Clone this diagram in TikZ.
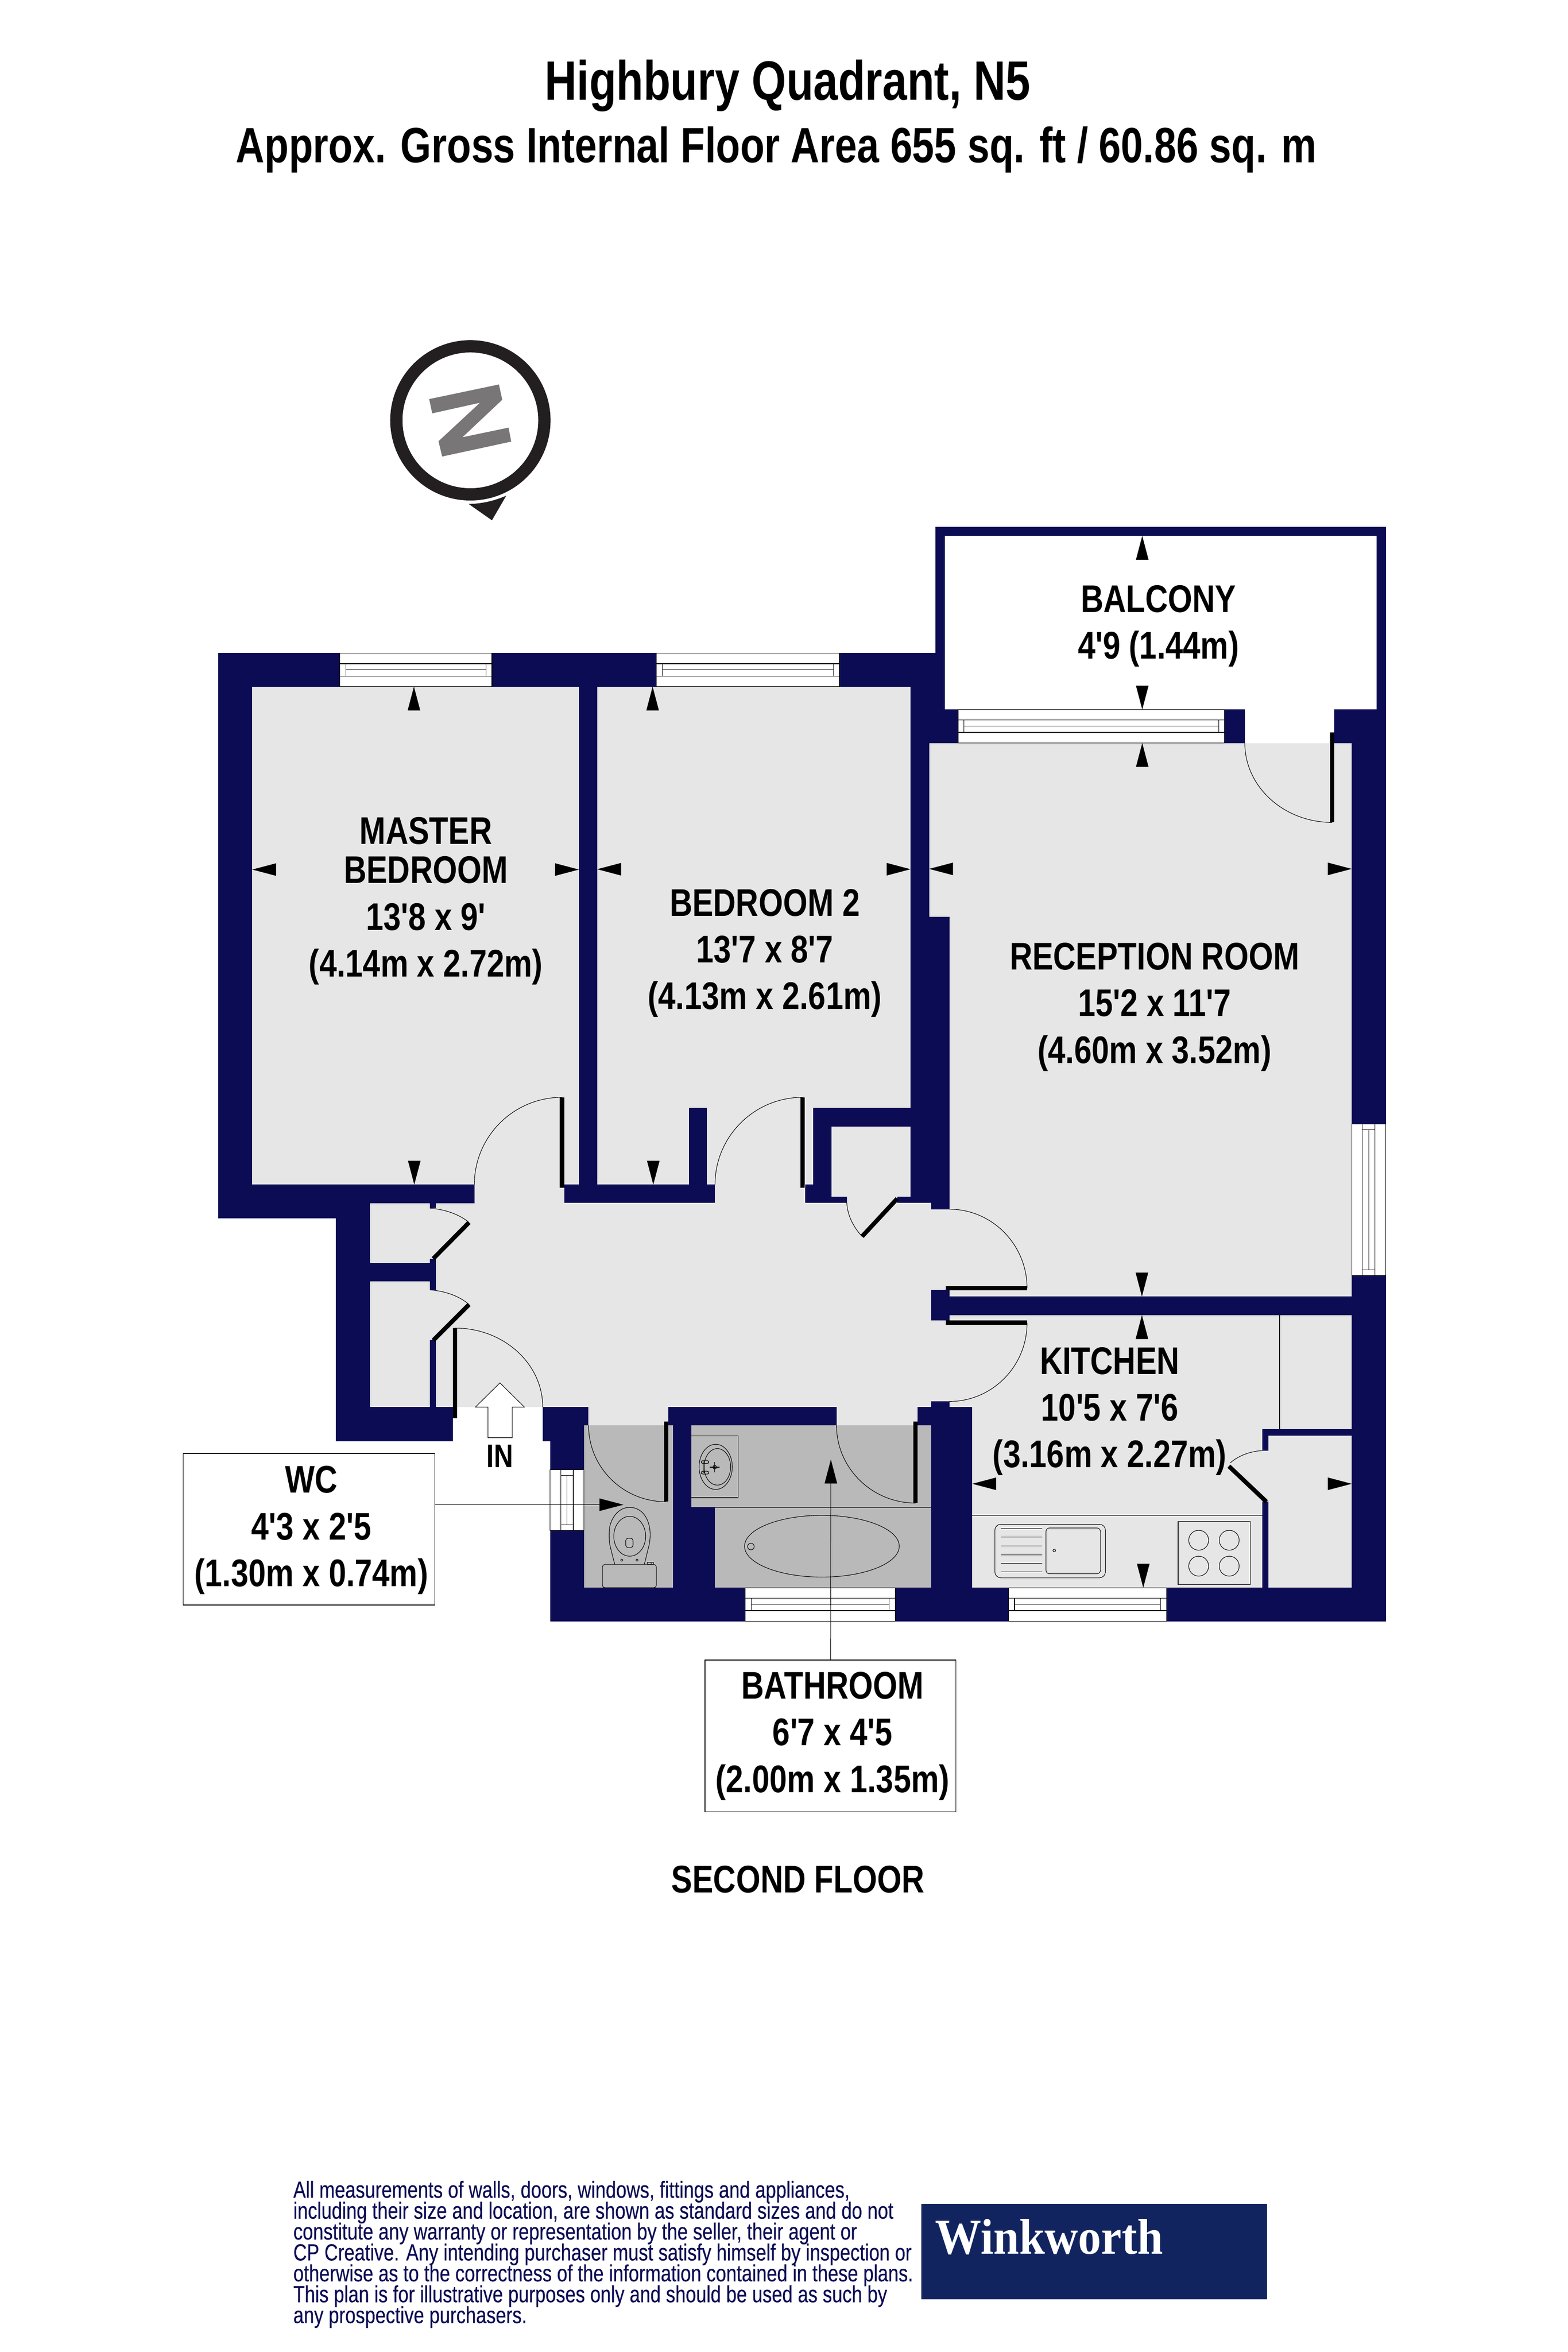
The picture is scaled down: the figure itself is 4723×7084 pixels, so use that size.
\documentclass[tikz,border=0pt]{standalone}
\usepackage{fontspec}
\newfontfamily\planfont[FakeStretch=0.815]{Liberation Sans}
\newfontfamily\titlefont[FakeStretch=0.8]{Liberation Sans}
\newfontfamily\notefont[FakeStretch=0.8,FakeBold=0.3]{Liberation Sans}
\newfontfamily\logofont[FakeStretch=0.92]{Liberation Serif}
\setlength{\lineskiplimit}{-100pt}
\definecolor{wallnavy}{HTML}{0C0C55}
\definecolor{floorgrey}{HTML}{E6E6E6}
\definecolor{wetgrey}{HTML}{B9B9B9}
\definecolor{logonavy}{HTML}{11245F}
\definecolor{compassdark}{HTML}{231F20}
\definecolor{compassgrey}{HTML}{797677}
\tikzset{
    wall/.style={fill=wallnavy},
    hairline/.style={draw=black,line width=0.45pt},
    leaf/.style={draw=black,line width=3.7pt},
    roomtext/.style={font=\planfont\bfseries\fontsize{33}{40}\selectfont,align=center,inner sep=0pt,anchor=base},
    labelbox/.style={draw=black,line width=0.45pt,fill=white,inner sep=0pt},
    dimtip/.pic={\fill[black] (0,0) -- (-72,-19) -- (-72,19) -- cycle;}
}
\newcommand{\windowH}[3]{
    \draw[hairline,fill=white] (#1,#3) rectangle (#2,#3+101);
    \draw[hairline] (#1,#3+32) -- (#2,#3+32) (#1,#3+69) -- (#2,#3+69);
    \draw[hairline] (#1+18,#3+32) -- (#1+18,#3+69) (#2-18,#3+32) -- (#2-18,#3+69);
    \draw[hairline] (#1+18,#3+50) -- (#2-18,#3+50);
}
\newcommand{\windowV}[3]{
    \draw[hairline,fill=white] (#1,#2) rectangle (#1+102,#3);
    \draw[hairline] (#1+32,#2) -- (#1+32,#3) (#1+70,#2) -- (#1+70,#3);
    \draw[hairline] (#1+32,#2+17) -- (#1+70,#2+17) (#1+32,#3-17) -- (#1+70,#3-17);
    \draw[hairline] (#1+51,#2+17) -- (#1+51,#3-17);
}
\begin{document}
\begin{tikzpicture}[x=0.01cm,y=-0.01cm]
    \useasboundingbox (0,0) rectangle (4723,7084);
    \fill[white] (0,0) rectangle (4723,7084);

    \node[roomtext,font=\titlefont\bfseries\fontsize{47.5}{50}\selectfont] (title) at (2373,301) {Highbury Quadrant, N5};
    \node[roomtext,font=\titlefont\bfseries\fontsize{42.5}{50}\selectfont] (area) at (2339,489) {Approx. Gross Internal Floor Area 655 sq. ft / 60.86 sq. m};

    \draw[compassdark,line width=10.5pt] (1417,1266) circle[radius=223];
    \fill[compassdark] (1412,1518) .. controls (1455,1517) and (1490,1508) .. (1525,1493) -- (1482,1567) -- cycle;
    \fill[compassgrey] (1293,1202) -- (1503,1158) -- (1513,1204) -- (1393,1317) -- (1532,1288) -- (1540,1330) -- (1332,1375) -- (1321,1329) -- (1446,1213) -- (1302,1245) -- cycle;

    \fill[floorgrey] (760,2068) rectangle (1744,3600);
    \fill[floorgrey] (1799,2068) rectangle (2743,3600);
    \fill[floorgrey] (2799,2238) rectangle (4072,3950);
    \fill[floorgrey] (1115,3568) rectangle (2860,4293);
    \fill[floorgrey] (2860,3642) rectangle (2929,4238);
    \fill[floorgrey] (2860,3961) rectangle (4072,4782);
    \fill[white] (1364,4238) rectangle (1635,4341);
    \fill[wetgrey] (1759,4293) rectangle (2027,4782);
    \fill[wetgrey] (2082,4293) rectangle (2805,4540);
    \fill[wetgrey] (2154,4540) rectangle (2805,4782);
    \fill[floorgrey] (2451,3393) rectangle (2743,3610);

    \foreach \xa/\ya/\xb/\yb in {
        657/1967/2846/2068, 657/1967/760/3669, 657/3568/1012/3669, 1012/3568/1115/4341,
        1115/3568/1429/3624, 1012/4238/1364/4341, 1744/2068/1799/3623, 1700/3568/2154/3623,
        2075/3337/2130/3623, 1115/3804/1313/3859, 1295/3624/1313/3639, 1295/3791/1313/3885,
        1295/4037/1313/4238, 2743/2068/2846/2137, 2743/2137/2799/2762, 2799/2137/2886/2238, 2743/2762/2860/3604,
        2425/3604/2551/3623, 2703/3604/2805/3623, 2425/3568/2505/3623, 2449/3337/2743/3393,
        2449/3337/2505/3623, 2805/3604/2860/3642, 2818/1587/4175/1614, 2818/1587/2846/2137,
        4147/1587/4175/2137, 4020/2137/4175/2238, 4072/2238/4175/4883, 3689/2137/3750/2238,
        2860/3905/4072/3961, 2805/3885/2860/3977, 2805/4221/2860/4293, 2860/4238/2929/4782,
        2805/4293/2929/4782, 2764/4238/2805/4293, 2013/4238/2520/4293, 1635/4238/1773/4293,
        1635/4293/1657/4341, 1657/4293/1759/4883, 2027/4293/2082/4883, 2082/4540/2154/4782,
        1657/4782/4175/4883, 3803/4304/4072/4324, 3803/4304/3821/4369, 3803/4523/3821/4782}
        \fill[wall] (\xa,\ya) rectangle (\xb,\yb);

    \windowH{1024}{1482}{1967}
    \windowH{1977}{2529}{1967}
    \windowH{2886}{3689}{2137}
    \windowH{2245}{2697}{4782}
    \windowH{3038}{3514}{4782}
    \windowV{4072}{3385}{3842}
    \windowV{1657}{4427}{4610}

    \draw[hairline] (1429,3568) .. controls (1429,3423) and (1547,3305) .. (1693,3305);
    \draw[hairline] (2154,3568) .. controls (2154,3423) and (2272,3305) .. (2418,3305);
    \draw[hairline] (1371,4000) .. controls (1517,4000) and (1635,4107) .. (1635,4238);
    \draw[hairline] (2860,3642) .. controls (2989,3642) and (3094,3749) .. (3094,3880);
    \draw[hairline] (3094,3984) .. controls (3094,4115) and (2989,4221) .. (2860,4221);
    \draw[hairline] (3750,2238) .. controls (3750,2370) and (3868,2477) .. (4013,2477);
    \draw[hairline] (1773,4293) .. controls (1773,4420) and (1877,4523) .. (2006,4523);
    \draw[hairline] (2520,4293) .. controls (2520,4422) and (2627,4527) .. (2758,4527);
    \draw[hairline] (1295,3639) .. controls (1340,3642) and (1385,3658) .. (1413,3682);
    \draw[hairline] (1295,3885) .. controls (1340,3888) and (1385,3904) .. (1413,3929);
    \draw[hairline] (2551,3623) .. controls (2553,3660) and (2570,3695) .. (2597,3724);
    \draw[hairline] (3803,4369) .. controls (3765,4371) and (3730,4385) .. (3706,4406);

    \draw[leaf] (1693,3305) -- (1693,3578);
    \draw[leaf] (2418,3305) -- (2418,3578);
    \draw[leaf] (1371,4000) -- (1371,4271);
    \draw[leaf] (1305,3791) -- (1413,3682);
    \draw[leaf] (1305,4037) -- (1413,3929);
    \draw[leaf] (2703,3610) -- (2597,3724);
    \draw[leaf] (2849,3880) -- (3094,3880);
    \draw[leaf] (2849,3984) -- (3094,3984);
    \draw[leaf] (4013,2206) -- (4013,2477);
    \draw[leaf] (2007,4282) -- (2007,4523);
    \draw[leaf] (2758,4282) -- (2758,4527);
    \draw[leaf] (3702,4416) -- (3815,4523);

    \draw[hairline,fill=white] (1506,4165) -- (1580,4238) -- (1543,4238) -- (1543,4330) -- (1470,4330) -- (1470,4238) -- (1432,4238) -- cycle;
    \node[roomtext,font=\planfont\bfseries\fontsize{28}{32}\selectfont] (entry) at (1506,4420) {IN};

    \draw[hairline] (2929,4564) -- (3803,4564);
    \draw[hairline] (3855,3961) -- (3855,4304);
    \draw[hairline] (2154,4540) -- (2805,4540);
    \draw[hairline,rounded corners=5pt] (2997,4591) rectangle (3330,4752);
    \draw[hairline,rounded corners=3pt] (3151,4602) rectangle (3315,4740);
    \foreach \y in {4604,4629,4656,4683,4709,4734}
        \draw[hairline] (3015,\y) -- (3140,\y);
    \draw[hairline] (3176,4670) circle[radius=4];
    \draw[hairline] (3549,4582) rectangle (3766,4772);
    \foreach \x in {3611,3703}
        \foreach \y in {4639,4717}
            \draw[hairline] (\x,\y) circle[radius=30];

    \draw[hairline] (2082,4325) -- (2224,4325) -- (2224,4511) -- (2082,4511);
    \draw[hairline] (2156,4418) ellipse[x radius=50,y radius=68];
    \draw[hairline] (2161,4418) ellipse[x radius=40,y radius=55];
    \draw[hairline] (2153,4419) circle[radius=5.5];
    \draw[hairline] (2138,4419) -- (2168,4419) (2153,4404) -- (2153,4434);
    \draw[hairline] (2121,4402) -- (2121,4437);
    \draw[hairline,rounded corners=1.5pt] (2113,4399) rectangle (2135,4408);
    \draw[hairline,rounded corners=1.5pt] (2113,4431) rectangle (2135,4440);
    \draw[hairline] (2476,4657) ellipse[x radius=233,y radius=93];
    \draw[hairline] (2262,4658) circle[radius=10];

    \draw[hairline] (1852,4712) .. controls (1845,4685) and (1838,4657) .. (1838,4657)
        .. controls (1834,4640) and (1834,4610) .. (1838,4593)
        .. controls (1848,4560) and (1870,4540) .. (1897,4540)
        .. controls (1925,4540) and (1947,4560) .. (1955,4593)
        .. controls (1960,4610) and (1960,4640) .. (1953,4663) -- (1941,4712);
    \draw[hairline] (1897,4627) ellipse[x radius=48,y radius=60];
    \draw[hairline,rounded corners=2pt] (1885,4633) rectangle (1907,4661);
    \draw[hairline] (1873,4699) circle[radius=3] (1919,4699) circle[radius=3];
    \draw[hairline,rounded corners=2pt] (1815,4712) rectangle (1977,4782);
    \draw[hairline] (1950,4706) rectangle (1969,4712) (1961,4706) -- (1961,4712);

    \foreach \x/\y in {1247/2068,1966/2068,3441/1614,3441/2238,3440/3961,2503/4396}
        \pic[rotate=90] at (\x,\y) {dimtip};
    \foreach \x/\y in {1248/3568,1968/3568,3441/2137,3440/3905,3444/4782}
        \pic[rotate=270] at (\x,\y) {dimtip};
    \foreach \x/\y in {760/2619,1799/2618,2799/2617,2929/4469}
        \pic[rotate=180] at (\x,\y) {dimtip};
    \foreach \x/\y in {1744/2619,2743/2618,4072/2617,4072/4469,1878/4532}
        \pic at (\x,\y) {dimtip};

    \node[roomtext] (balcony) at (3490,1984) {BALCONY\\4'9 (1.44m)};
    \node[roomtext] (master) at (1283,2942) {MASTER\\[-6.3pt]BEDROOM\\13'8 x 9'\\(4.14m x 2.72m)};
    \node[roomtext] (bedtwo) at (2304,3040) {BEDROOM 2\\13'7 x 8'7\\(4.13m x 2.61m)};
    \node[roomtext] (reception) at (3478,3202) {RECEPTION ROOM\\15'2 x 11'7\\(4.60m x 3.52m)};
    \node[roomtext] (kitchen) at (3343,4420) {KITCHEN\\10'5 x 7'6\\(3.16m x 2.27m)};
    \node[roomtext] (floorname) at (2404,5700) {SECOND FLOOR};

    \coordinate (wctip) at (1806,4532);
    \coordinate (bathtip) at (2503,4466);
    \node[labelbox,minimum width=7.57cm,minimum height=4.56cm] (wcbox) at (930.5,4606) {};
    \node[labelbox,minimum width=7.56cm,minimum height=4.56cm] (bathbox) at (2502,5228) {};
    \draw[hairline] (wcbox.east |- wctip) -- (wctip);
    \draw[hairline] (bathbox.north) -- (bathtip);
    \node[roomtext] (wc) at (938,4778) {WC\\4'3 x 2'5\\(1.30m x 0.74m)};
    \node[roomtext] (bathroom) at (2508,5398) {BATHROOM\\6'7 x 4'5\\(2.00m x 1.35m)};

    \node[inner sep=0pt,anchor=base west,align=left,text=wallnavy,font=\notefont\fontsize{20}{17.9}\selectfont] (note) at (883,6997) {All measurements of walls, doors, windows, fittings and appliances,\\including their size and location, are shown as standard sizes and do not\\constitute any warranty or representation by the seller, their agent or\\CP Creative. Any intending purchaser must satisfy himself by inspection or\\otherwise as to the correctness of the information contained in these plans.\\This plan is for illustrative purposes only and should be used as such by\\any prospective purchasers.};
    \fill[logonavy] (2775,6638) rectangle (3817,6925);
    \node[inner sep=0pt,anchor=base west,text=white,font=\logofont\bfseries\fontsize{43}{50}\selectfont] (logo) at (2817,6789) {Winkworth};
\end{tikzpicture}
\end{document}
